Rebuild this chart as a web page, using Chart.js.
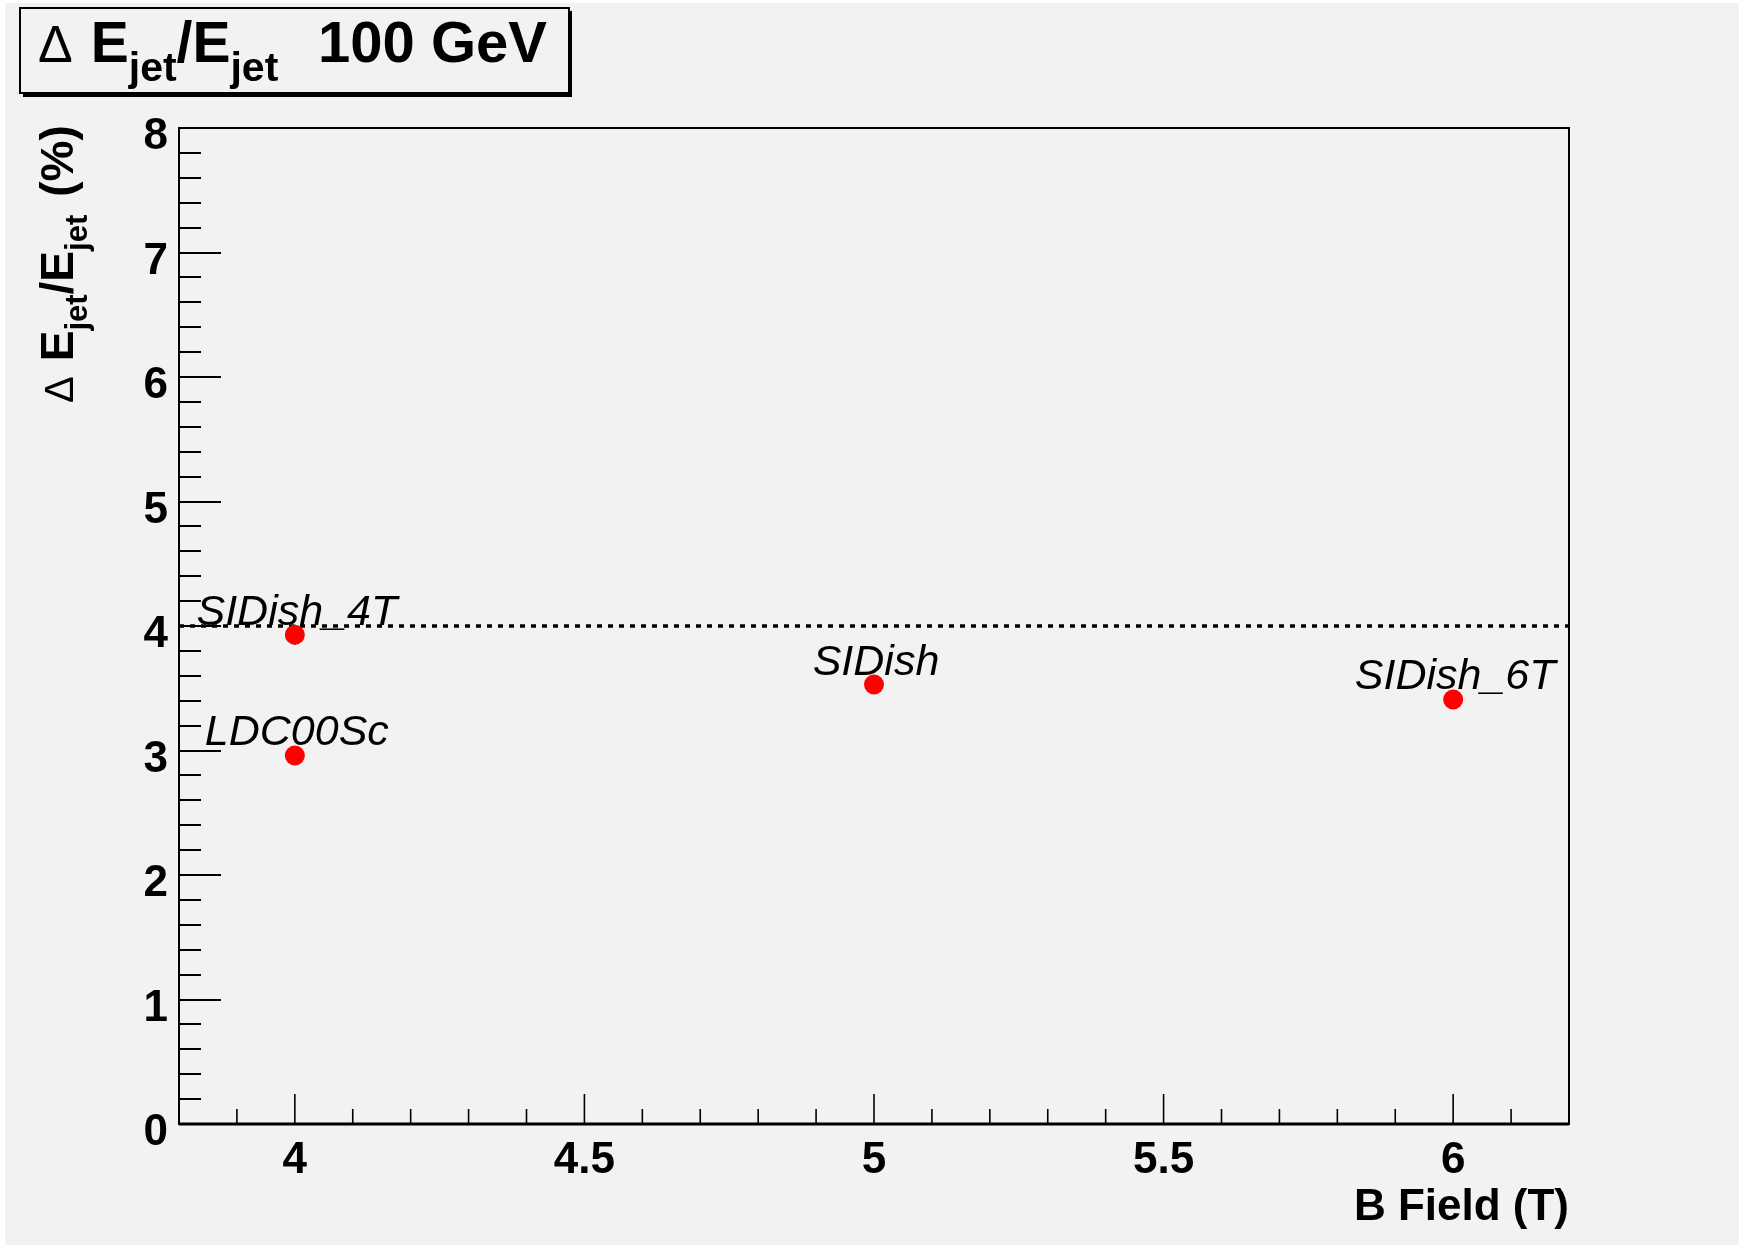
<!DOCTYPE html>
<html><head><meta charset="utf-8">
<script src="https://cdn.jsdelivr.net/npm/chart.js@4.4.0/dist/chart.umd.min.js"></script>
<style>html,body{margin:0;padding:0;background:#fff;overflow:hidden}canvas{display:block}</style>
</head><body><canvas id="c" width="1739" height="1247"></canvas>
<script>
// ---- data ----
const pointLabels = ["LDC00Sc", "SIDish_4T", "SIDish", "SIDish_6T"];
const bField = [4, 4, 5, 6];
const resolution = [2.96, 3.93, 3.53, 3.41];
const resolutionErr = [0.07, 0.08, 0.07, 0.06];
const referenceLevel = 4;
const xTickValues = [4, 4.5, 5, 5.5, 6];
const yTickValues = [0, 1, 2, 3, 4, 5, 6, 7, 8];
const xRange = [3.8, 6.2];
const yRange = [0, 8];
const xMinorStep = 0.1;
const yMinorStep = 0.2;
const titleText = "100 GeV";
const xAxisTitle = "B Field (T)";

const FONT = "'Liberation Sans', Arial, Helvetica, sans-serif";
const BG = "#f2f2f2";

function drawRuns(ctx, runs, x, y) {
  let cx = x;
  for (const r of runs) {
    ctx.font = r.font;
    ctx.fillText(r.t, cx, y + (r.dy || 0));
    cx += ctx.measureText(r.t).width + (r.gap || 0);
  }
}

const decorPlugin = {
  id: 'decor',
  beforeDraw(chart) {
    const ctx = chart.ctx;
    ctx.save();
    ctx.fillStyle = '#fff';
    ctx.fillRect(0, 0, chart.width, chart.height);
    ctx.fillStyle = BG;
    ctx.fillRect(5, 3, chart.width - 5, chart.height - 5);
    ctx.restore();
  },
  beforeDatasetsDraw(chart) {
    const ctx = chart.ctx;
    const a = chart.chartArea;
    const xs = chart.scales.x, ys = chart.scales.y;
    ctx.save();
    ctx.strokeStyle = '#000';
    // y ticks (inward from left edge)
    ctx.lineWidth = 2;
    const nY = Math.round((yRange[1] - yRange[0]) / yMinorStep);
    for (let i = 0; i <= nY; i++) {
      const v = yRange[0] + i * yMinorStep;
      const major = yTickValues.some(t => Math.abs(t - v) < 1e-6);
      const py = Math.round(ys.getPixelForValue(v));
      ctx.beginPath();
      ctx.moveTo(a.left, py);
      ctx.lineTo(a.left + (major ? 42 : 22), py);
      ctx.stroke();
    }
    // x ticks (inward from bottom)
    ctx.lineWidth = 1.6;
    const x0 = Math.ceil(xRange[0] / xMinorStep - 1e-6);
    const x1 = Math.floor(xRange[1] / xMinorStep + 1e-6);
    for (let k = x0; k <= x1; k++) {
      const v = k * xMinorStep;
      if (v <= xRange[0] + 1e-6 || v >= xRange[1] - 1e-6) continue;
      const major = xTickValues.some(t => Math.abs(t - v) < 1e-6);
      const px = xs.getPixelForValue(v);
      ctx.beginPath();
      ctx.moveTo(px, a.bottom);
      ctx.lineTo(px, a.bottom - (major ? 30 : 15));
      ctx.stroke();
    }
    // frame
    ctx.lineWidth = 2;
    ctx.strokeRect(a.left, a.top, a.right - a.left, a.bottom - a.top);
    ctx.lineWidth = 3;
    ctx.beginPath();
    ctx.moveTo(a.left, a.bottom); ctx.lineTo(a.right, a.bottom);
    ctx.stroke();
    // reference dotted line
    const ry = ys.getPixelForValue(referenceLevel);
    ctx.lineWidth = 3.5;
    ctx.setLineDash([5, 6]);
    ctx.beginPath();
    ctx.moveTo(a.left, ry); ctx.lineTo(a.right, ry);
    ctx.stroke();
    ctx.setLineDash([]);
    // error bars
    ctx.lineWidth = 2;
    for (let i = 0; i < bField.length; i++) {
      const px = xs.getPixelForValue(bField[i]);
      ctx.beginPath();
      ctx.moveTo(px, ys.getPixelForValue(resolution[i] - resolutionErr[i]));
      ctx.lineTo(px, ys.getPixelForValue(resolution[i] + resolutionErr[i]));
      ctx.stroke();
    }
    ctx.restore();
  },
  afterDatasetsDraw(chart) {
    const ctx = chart.ctx;
    const xs = chart.scales.x, ys = chart.scales.y;
    ctx.save();
    ctx.fillStyle = '#000';
    ctx.font = "italic 43px " + FONT;
    ctx.textAlign = 'center';
    ctx.textBaseline = 'alphabetic';
    for (let i = 0; i < pointLabels.length; i++) {
      const px = xs.getPixelForValue(bField[i]);
      const py = ys.getPixelForValue(resolution[i]);
      ctx.fillText(pointLabels[i], px + 2, py - 10);
    }
    ctx.restore();
  },
  afterDraw(chart) {
    const ctx = chart.ctx;
    const a = chart.chartArea;
    ctx.save();
    ctx.fillStyle = '#000';
    ctx.textBaseline = 'alphabetic';
    // x axis title
    ctx.font = "bold 44px " + FONT;
    ctx.textAlign = 'right';
    ctx.fillText(xAxisTitle, a.right, 1220);
    // title box with shadow
    ctx.textAlign = 'left';
    ctx.fillStyle = '#000';
    ctx.fillRect(23, 11, 549, 86);
    ctx.fillStyle = BG;
    ctx.fillRect(20, 8, 549, 85);
    ctx.strokeStyle = '#000';
    ctx.lineWidth = 2;
    ctx.strokeRect(20, 8, 549, 85);
    ctx.fillStyle = '#000';
    drawRuns(ctx, [
      { t: "\u0394", font: "52px " + FONT, gap: 18 },
      { t: "E", font: "bold 57px " + FONT },
      { t: "jet", font: "bold 41px " + FONT, dy: 19 },
      { t: "/", font: "bold 57px " + FONT },
      { t: "E", font: "bold 57px " + FONT },
      { t: "jet", font: "bold 41px " + FONT, dy: 19 }
    ], 38, 62);
    ctx.font = "bold 58px " + FONT;
    ctx.fillText(titleText, 318, 62);
    // y axis title (rotated)
    ctx.save();
    ctx.translate(73, 403);
    ctx.rotate(-Math.PI / 2);
    drawRuns(ctx, [
      { t: "\u0394", font: "40px " + FONT, gap: 15 },
      { t: "E", font: "bold 46px " + FONT },
      { t: "jet", font: "bold 31px " + FONT, dy: 14 },
      { t: "/", font: "bold 46px " + FONT },
      { t: "E", font: "bold 46px " + FONT },
      { t: "jet", font: "bold 31px " + FONT, dy: 14, gap: 18 },
      { t: "(%)", font: "bold 46px " + FONT }
    ], 0, 0);
    ctx.restore();
    ctx.restore();
  }
};

new Chart(document.getElementById('c'), {
  type: 'scatter',
  data: {
    datasets: [{
      data: bField.map((x, i) => ({ x: x, y: resolution[i] })),
      backgroundColor: '#ff0000',
      borderColor: '#ff0000',
      borderWidth: 0,
      pointRadius: 10,
      pointHoverRadius: 10,
      showLine: false
    }]
  },
  options: {
    responsive: false,
    animation: false,
    devicePixelRatio: 1,
    layout: { padding: { left: 0, top: 128, right: 170, bottom: 0 } },
    plugins: { legend: { display: false }, tooltip: { enabled: false }, title: { display: false } },
    events: [],
    scales: {
      x: {
        type: 'linear', min: xRange[0], max: xRange[1],
        grid: { display: false, drawTicks: false },
        border: { display: false },
        ticks: { color: '#000', font: { family: FONT, size: 44, weight: 'bold' }, padding: 10, autoSkip: false, maxRotation: 0,
                 callback: v => String(v) },
        afterBuildTicks: s => { s.ticks = xTickValues.map(v => ({ value: v })); },
        afterFit: s => { s.height = 123; }
      },
      y: {
        type: 'linear', min: yRange[0], max: yRange[1],
        grid: { display: false, drawTicks: false },
        border: { display: false },
        ticks: { color: '#000', font: { family: FONT, size: 44, weight: 'bold' }, padding: 11, autoSkip: false, labelOffset: 9,
                 callback: v => String(v) },
        afterBuildTicks: s => { s.ticks = yTickValues.map(v => ({ value: v })); },
        afterFit: s => { s.width = 179; }
      }
    }
  },
  plugins: [decorPlugin]
});
</script>
</body></html>
